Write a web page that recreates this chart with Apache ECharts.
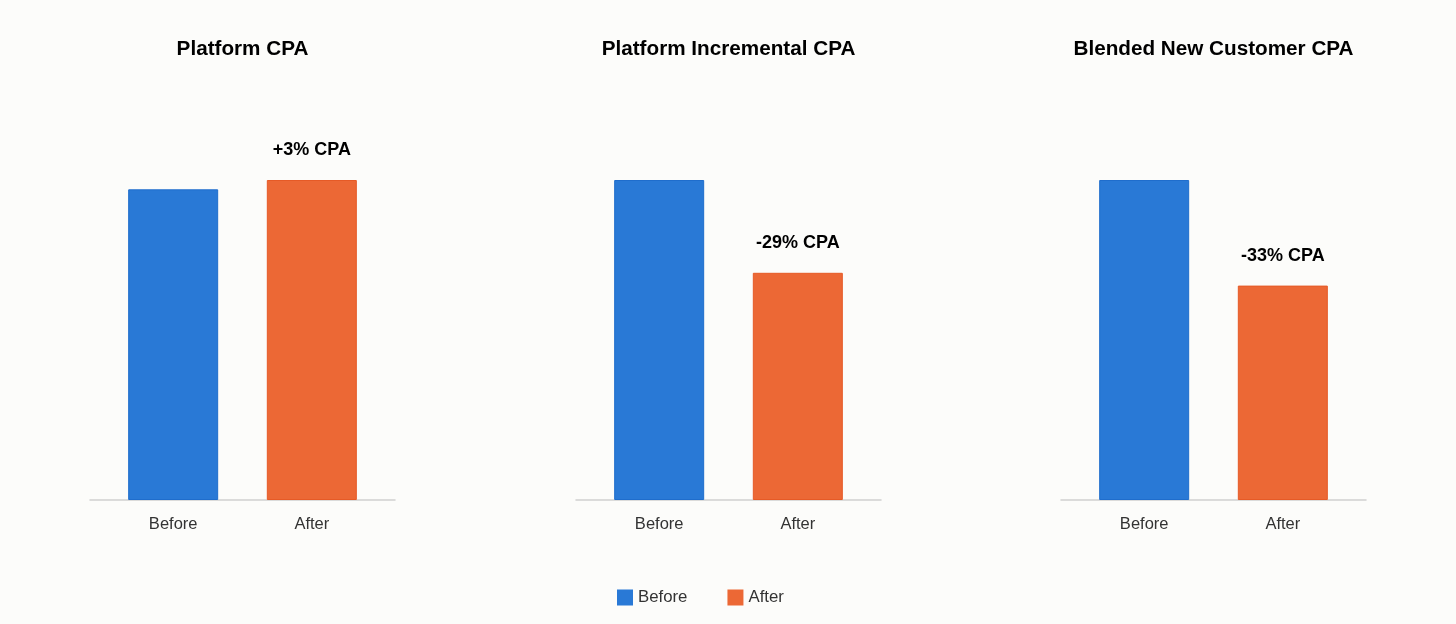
<!DOCTYPE html>
<html>
<head>
<meta charset="utf-8">
<script src="https://cdn.jsdelivr.net/npm/echarts@6/dist/echarts.min.js"></script>
<style>
  html, body { margin: 0; padding: 0; background: #fcfcfa; }
  #chart { width: 1456px; height: 624px; }
</style>
</head>
<body>
<div id="chart"></div>
<script>
const panelTitles = ['Platform CPA', 'Platform Incremental CPA', 'Blended New Customer CPA'];
const categories = ['Before', 'After'];
const beforeValues = [100, 100, 100];
const afterValues = [103, 71, 67];
const changeLabels = ['+3% CPA', '-29% CPA', '-33% CPA'];

const FONT = 'Liberation Sans, Arial, Helvetica, sans-serif';
const BLUE = '#2979d6';
const ORANGE = '#ec6835';
const gridLefts = [90, 576, 1061];
const gridWidth = 305;

const buildOption = () => {
    const grids = [], xAxes = [], yAxes = [], series = [], texts = [];

    panelTitles.forEach((title, i) => {
        grids.push({ left: gridLefts[i], width: gridWidth, top: 180, bottom: 124 });

        xAxes.push({
            gridIndex: i,
            type: 'value',
            min: -0.6,
            max: 1.6,
            splitLine: { show: false },
            axisTick: { show: false },
            axisLine: { show: true, onZero: false, lineStyle: { color: '#d0d0d0', width: 1.5 } },
            axisLabel: {
                customValues: [0, 1],
                formatter: v => categories[Math.round(v)],
                color: '#333',
                fontSize: 16.5,
                fontFamily: FONT,
                margin: 16
            }
        });

        yAxes.push({
            gridIndex: i,
            type: 'value',
            min: 0,
            max: 'dataMax',
            show: false
        });

        series.push({
            name: 'Before',
            type: 'bar',
            xAxisIndex: i,
            yAxisIndex: i,
            barWidth: 90,
            barGap: '-100%',
            itemStyle: { color: BLUE, borderColor: '#1f6dcc', borderWidth: 1 },
            data: [[0, beforeValues[i]]]
        });

        series.push({
            name: 'After',
            type: 'bar',
            xAxisIndex: i,
            yAxisIndex: i,
            barWidth: 90,
            barGap: '-100%',
            itemStyle: { color: ORANGE, borderColor: '#e65a26', borderWidth: 1 },
            label: {
                show: true,
                position: 'top',
                distance: 21,
                formatter: () => changeLabels[i],
                color: '#000',
                fontSize: 18,
                fontWeight: 'bold',
                fontFamily: FONT
            },
            data: [[1, afterValues[i]]]
        });

        texts.push({
            type: 'text',
            x: gridLefts[i] + gridWidth / 2,
            y: 49,
            style: {
                text: title,
                align: 'center',
                verticalAlign: 'middle',
                fill: '#000',
                fontSize: 20.7,
                fontWeight: 'bold',
                fontFamily: FONT
            }
        });
    });

    return {
        backgroundColor: '#fcfcfa',
        animation: false,
        graphic: texts,
        legend: {
            data: categories,
            left: 617,
            top: 589,
            padding: 0,
            icon: 'rect',
            itemWidth: 16,
            itemHeight: 16,
            itemGap: 40,
            itemStyle: { borderWidth: 0 },
            textStyle: { color: '#333', fontSize: 16.8, fontFamily: FONT }
        },
        grid: grids,
        xAxis: xAxes,
        yAxis: yAxes,
        series: series
    };
};

const initChart = () => {
    const chart = echarts.init(document.getElementById('chart'));
    chart.setOption(buildOption());
};

window.addEventListener('load', () => {
    initChart();
});
</script>
</body>
</html>
